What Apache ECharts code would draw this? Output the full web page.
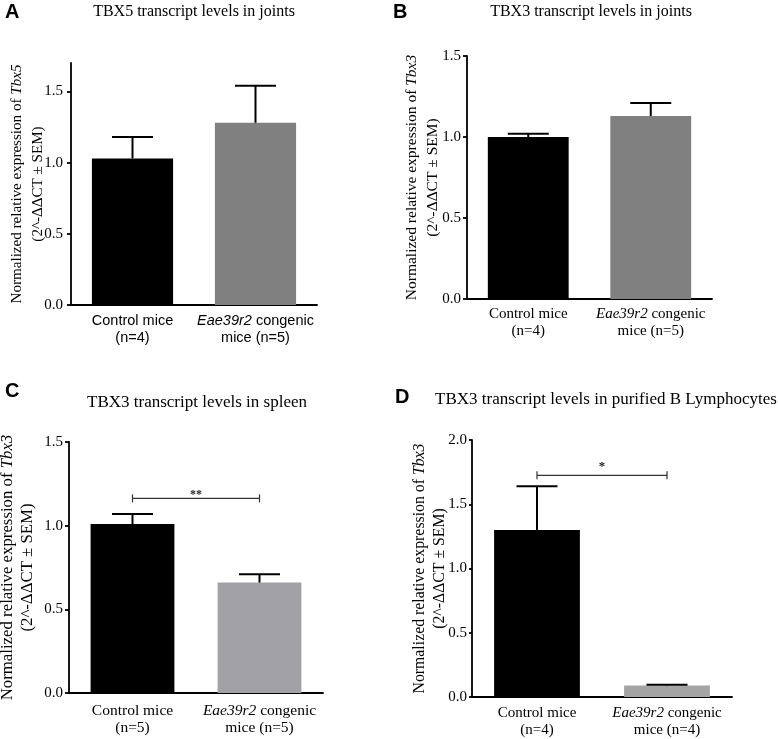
<!DOCTYPE html>
<html>
<head>
<meta charset="utf-8">
<script src="https://cdn.jsdelivr.net/npm/echarts@6/dist/echarts.min.js"></script>
<style>
  html, body { margin: 0; padding: 0; background: #fff; }
  #chart { width: 778px; height: 739px; }
</style>
</head>
<body>
<div id="chart"></div>
<script>
// ---------- data ----------
const categoriesA = ['Control mice\n(n=4)', '{i|Eae39r2} congenic\nmice (n=5)'];
const categoriesB = ['Control mice\n(n=4)', '{i|Eae39r2} congenic\nmice (n=5)'];
const categoriesC = ['Control mice\n(n=5)', '{i|Eae39r2} congenic\nmice (n=5)'];
const categoriesD = ['Control mice\n(n=4)', '{i|Eae39r2} congenic\nmice (n=4)'];

const meansA = [1.03, 1.28];
const errTopA = [1.18, 1.54];
const meansB = [1.00, 1.13];
const errTopB = [1.02, 1.21];
const meansC = [1.01, 0.66];
const errTopC = [1.07, 0.71];
const meansD = [1.30, 0.09];
const errTopD = [1.64, 0.095];

const yTicksA = [0, 0.5, 1.0, 1.5];
const yTicksB = [0, 0.5, 1.0, 1.5];
const yTicksC = [0, 0.5, 1.0, 1.5];
const yTicksD = [0, 0.5, 1.0, 1.5, 2.0];
const yMaxA = 1.7, yMaxB = 1.5, yMaxC = 1.5, yMaxD = 2.0;

const titles = [
  'TBX5 transcript levels in joints',
  'TBX3 transcript levels in joints',
  'TBX3 transcript levels in spleen',
  'TBX3 transcript levels in purified B Lymphocytes'
];
const panelLetters = ['A', 'B', 'C', 'D'];
const yNames = ['Tbx5', 'Tbx3', 'Tbx3', 'Tbx3'];

// significance brackets: [fromCategory, toCategory, level]
const sigC = [[0, 1, 1.163]];
const sigCText = ['**'];
const sigD = [[0, 1, 1.725]];
const sigDText = ['*'];

// ---------- styling helpers ----------
const SERIF = 'Liberation Serif';
const SANS = 'Liberation Sans';

const grids = [
  { left: 71, top: 63, width: 246, height: 242, outerBoundsMode: 'none', containLabel: false },
  { left: 467, top: 56, width: 245, height: 243, outerBoundsMode: 'none', containLabel: false },
  { left: 69, top: 442, width: 254, height: 251, outerBoundsMode: 'none', containLabel: false },
  { left: 472, top: 440, width: 260, height: 257, outerBoundsMode: 'none', containLabel: false }
];

function xAxisFor(idx, cats, font, size, margin) {
  return {
    type: 'category', gridIndex: idx, data: cats,
    axisLine: { lineStyle: { color: '#000', width: 1.8 } },
    axisTick: { alignWithLabel: true, length: 5, lineStyle: { color: '#000', width: 1.8 } },
    axisLabel: {
      interval: 0, margin: margin, color: '#000', fontFamily: font, fontSize: size, lineHeight: 17,
      rich: { i: { fontStyle: 'italic', fontFamily: font, fontSize: size, lineHeight: 17, color: '#000' } }
    }
  };
}

function yAxisFor(idx, max, ticks, nameItalic, nameSize, nameGap, lh, labelMargin, tickLen) {
  return {
    type: 'value', gridIndex: idx, min: 0, max: max, interval: 0.5,
    name: '{n|Normalized relative expression of }{i|' + nameItalic + '}\n{n|(2^-ΔΔCT ± SEM)}',
    nameLocation: 'middle', nameRotate: 90, nameGap: nameGap, nameMoveOverlap: false,
    nameTextStyle: {
      color: '#000', fontFamily: SERIF, fontSize: nameSize, lineHeight: lh,
      rich: {
        n: { fontFamily: SERIF, fontSize: nameSize, lineHeight: lh, color: '#000' },
        i: { fontFamily: SERIF, fontStyle: 'italic', fontSize: nameSize, lineHeight: lh, color: '#000' }
      }
    },
    axisLine: { show: true, lineStyle: { color: '#000', width: 1.8 } },
    axisTick: { show: true, length: tickLen, customValues: ticks, lineStyle: { color: '#000', width: 1.8 } },
    axisLabel: {
      customValues: ticks, margin: labelMargin, color: '#000', fontFamily: SERIF, fontSize: 15,
      formatter: v => Number(v).toFixed(1)
    },
    splitLine: { show: false }
  };
}

function barSeries(idx, means, colors) {
  return {
    type: 'bar', xAxisIndex: idx, yAxisIndex: idx, barWidth: '66%',
    data: means.map((v, i) => ({ value: v, itemStyle: { color: colors[i] } })),
    silent: true
  };
}

function errorSeries(idx, means, tops) {
  return {
    type: 'custom', xAxisIndex: idx, yAxisIndex: idx, silent: true, z: 3,
    data: means.map((v, i) => [i, v, tops[i]]),
    renderItem: function (params, api) {
      const base = api.coord([api.value(0), api.value(1)]);
      const top = api.coord([api.value(0), api.value(2)]);
      const hw = 20.5;
      const st = { stroke: '#000', lineWidth: 2 };
      return {
        type: 'group', children: [
          { type: 'line', shape: { x1: base[0], y1: base[1], x2: top[0], y2: top[1] }, style: st },
          { type: 'line', shape: { x1: top[0] - hw, y1: top[1], x2: top[0] + hw, y2: top[1] }, style: st }
        ]
      };
    }
  };
}

function bracketSeries(idx, data, texts, fontSize, textOffset) {
  return {
    type: 'custom', xAxisIndex: idx, yAxisIndex: idx, silent: true, z: 4,
    data: data,
    renderItem: function (params, api) {
      const p0 = api.coord([api.value(0), api.value(2)]);
      const p1 = api.coord([api.value(1), api.value(2)]);
      const st = { stroke: '#333', lineWidth: 1.2 };
      return {
        type: 'group', children: [
          { type: 'line', shape: { x1: p0[0], y1: p0[1], x2: p1[0], y2: p1[1] }, style: st },
          { type: 'line', shape: { x1: p0[0], y1: p0[1] - 4, x2: p0[0], y2: p0[1] + 4 }, style: st },
          { type: 'line', shape: { x1: p1[0], y1: p1[1] - 4, x2: p1[0], y2: p1[1] + 4 }, style: st },
          { type: 'text', x: (p0[0] + p1[0]) / 2, y: p0[1] - textOffset,
            style: { text: texts[params.dataIndex], fill: '#222', font: 'bold ' + fontSize + 'px ' + SERIF,
                     textAlign: 'center', textVerticalAlign: 'middle' } }
        ]
      };
    }
  };
}

const graphics = [
  { type: 'text', x: 5, y: 12, style: { text: panelLetters[0], font: 'bold 20px ' + SANS, fill: '#000', textVerticalAlign: 'middle' } },
  { type: 'text', x: 393, y: 12, style: { text: panelLetters[1], font: 'bold 20px ' + SANS, fill: '#000', textVerticalAlign: 'middle' } },
  { type: 'text', x: 5, y: 391, style: { text: panelLetters[2], font: 'bold 20px ' + SANS, fill: '#000', textVerticalAlign: 'middle' } },
  { type: 'text', x: 395, y: 397, style: { text: panelLetters[3], font: 'bold 20px ' + SANS, fill: '#000', textVerticalAlign: 'middle' } },
  { type: 'text', x: 194, y: 12, style: { text: titles[0], font: '16px ' + SERIF, fill: '#000', textAlign: 'center', textVerticalAlign: 'middle' } },
  { type: 'text', x: 591, y: 12, style: { text: titles[1], font: '16px ' + SERIF, fill: '#000', textAlign: 'center', textVerticalAlign: 'middle' } },
  { type: 'text', x: 197, y: 403, style: { text: titles[2], font: '17px ' + SERIF, fill: '#000', textAlign: 'center', textVerticalAlign: 'middle' } },
  { type: 'text', x: 606, y: 400, style: { text: titles[3], font: '17px ' + SERIF, fill: '#000', textAlign: 'center', textVerticalAlign: 'middle' } }
];

const option = {
  backgroundColor: '#fff',
  animation: false,
  graphic: graphics,
  grid: grids,
  xAxis: [
    xAxisFor(0, categoriesA, SANS, 14.5, 7),
    xAxisFor(1, categoriesB, SERIF, 15, 7),
    xAxisFor(2, categoriesC, SERIF, 15.5, 9),
    xAxisFor(3, categoriesD, SERIF, 15, 8)
  ],
  yAxis: [
    yAxisFor(0, yMaxA, yTicksA, yNames[0], 15.1, 22, 21, 8, 4),
    yAxisFor(1, yMaxB, yTicksB, yNames[1], 15.5, 24, 21, 6, 4),
    yAxisFor(2, yMaxC, yTicksC, yNames[2], 16.8, 31, 20, 6, 4),
    yAxisFor(3, yMaxD, yTicksD, yNames[3], 15.8, 22, 20, 5, 3)
  ],
  series: [
    barSeries(0, meansA, ['#000000', '#808080']),
    errorSeries(0, meansA, errTopA),
    barSeries(1, meansB, ['#000000', '#808080']),
    errorSeries(1, meansB, errTopB),
    barSeries(2, meansC, ['#000000', '#a2a2a6']),
    errorSeries(2, meansC, errTopC),
    bracketSeries(2, sigC, sigCText, 12, 3),
    barSeries(3, meansD, ['#000000', '#a4a4a4']),
    errorSeries(3, meansD, errTopD),
    bracketSeries(3, sigD, sigDText, 13, 9)
  ]
};

const chart = echarts.init(document.getElementById('chart'), null, { renderer: 'canvas' });
chart.setOption(option);
</script>
</body>
</html>
